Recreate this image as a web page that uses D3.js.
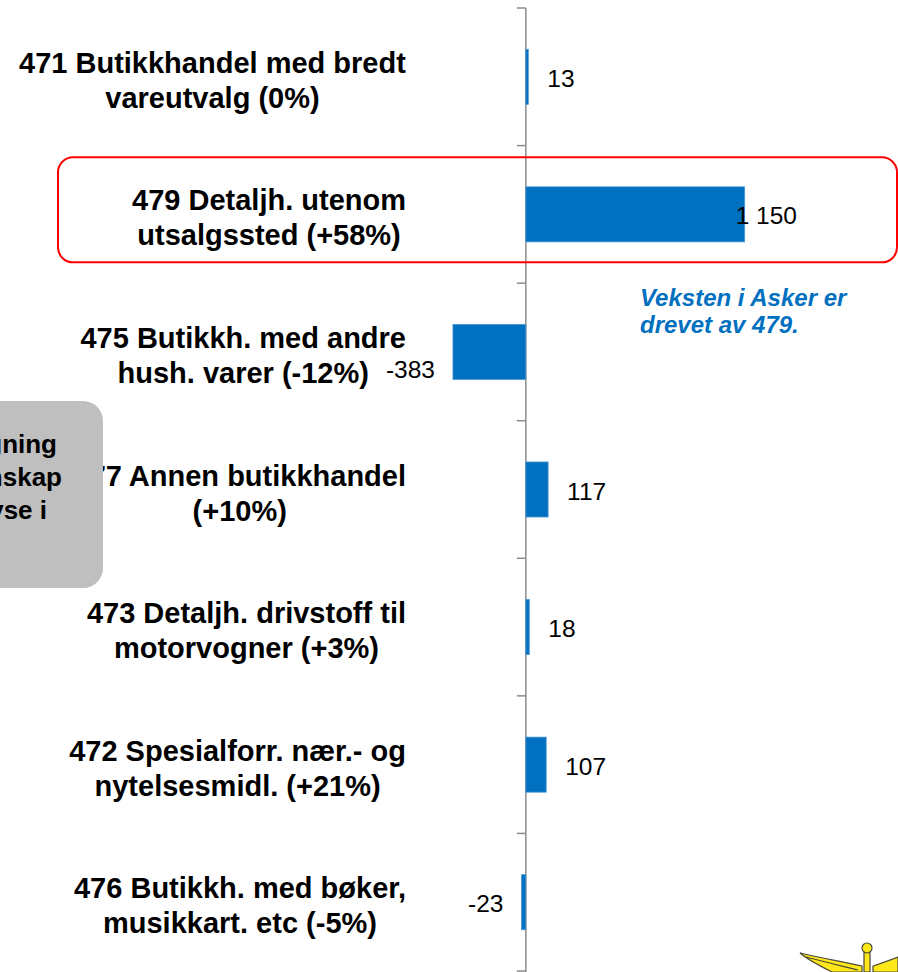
<!DOCTYPE html>
<html>
<head>
<meta charset="utf-8">
<script src="https://d3js.org/d3.v7.min.js"></script>
<style>
body{margin:0;background:#fff;}
svg{display:block;font-family:"Liberation Sans",Arial,sans-serif;}
</style>
</head>
<body>
<svg id="chart" width="898" height="972"></svg>
<script>
// categories (two lines each) and change in employees
var labels = [
  ["471 Butikkhandel med bredt", "vareutvalg (0%)"],
  ["479 Detaljh. utenom", "utsalgssted (+58%)"],
  ["475 Butikkh. med andre", "hush. varer (-12%)"],
  ["477 Annen butikkhandel", "(+10%)"],
  ["473 Detaljh. drivstoff til", "motorvogner (+3%)"],
  ["472 Spesialforr. nær.- og", "nytelsesmidl. (+21%)"],
  ["476 Butikkh. med bøker,", "musikkart. etc (-5%)"]
];
var values = [13, 1150, -383, 117, 18, 107, -23];
var highlight = 1;
var note = ["Veksten i Asker er", "drevet av 479."];
var sideNote = ["Omregning", "av regnskap", "analyse i"];

var svg = d3.select("#chart");
var blue = "#0070C0";
var loc = d3.formatLocale({decimal: ",", thousands: " ", grouping: [3], currency: ["", ""], minus: "-"});
var fmt = loc.format(",d");

var x = d3.scaleLinear().domain([-1500, 1425]).range([240.4, 797]);
var y = d3.scaleBand().domain(d3.range(labels.length)).range([8, 971]).paddingInner(0.6).paddingOuter(0.3);
var step = y.step();
var labelRight = 406;

// category labels
var cat = svg.append("g").selectAll("g").data(labels).enter().append("g");
cat.each(function(d, i) {
  var g = d3.select(this);
  g.selectAll("text").data(d).enter().append("text")
    .attr("x", 0)
    .attr("y", function(t, j) { return j * 35; })
    .attr("text-anchor", "middle")
    .attr("font-size", 29)
    .attr("font-weight", "bold")
    .attr("fill", "#000")
    .text(function(t) { return t; });
  var bb = this.getBBox();
  var cy = y(i) + y.bandwidth() / 2;
  g.attr("transform", "translate(" + (labelRight - bb.width / 2) + "," + (cy - 4) + ")");
});

// axis
var axisX = x(0);
var ticks = d3.range(labels.length + 1).map(function(i) { return 8 + i * step; });
svg.append("line").attr("x1", axisX).attr("x2", axisX).attr("y1", 8).attr("y2", 972)
  .attr("stroke", "#8c8c8c").attr("stroke-width", 1.5);
svg.selectAll(".tk").data(ticks).enter().append("line").attr("class", "tk")
  .attr("x1", axisX - 9).attr("x2", axisX).attr("y1", function(d) { return d; }).attr("y2", function(d) { return d; })
  .attr("stroke", "#8c8c8c").attr("stroke-width", 1.5);

// bars
svg.selectAll(".bar").data(values).enter().append("rect").attr("class", "bar")
  .attr("x", function(d) { return x(Math.min(0, d)); })
  .attr("width", function(d) { return Math.max(1.5, Math.abs(x(d) - x(0))); })
  .attr("y", function(d, i) { return y(i); })
  .attr("height", y.bandwidth())
  .attr("fill", blue).attr("stroke", "#4b95d6").attr("stroke-width", 0.8);

// value labels
svg.selectAll(".val").data(values).enter().append("text").attr("class", "val")
  .attr("font-size", 24.5).attr("fill", "#000")
  .text(function(d) { return fmt(d); })
  .each(function(d, i) {
    var w = this.getComputedTextLength();
    var cy = y(i) + y.bandwidth() / 2 + 10;
    var lx;
    if (d >= 0) {
      lx = Math.min(x(d) + 19, x.range()[1] - w);
    } else {
      lx = x(d) - 18 - w;
      if (lx < labelRight) cy += 16;
    }
    d3.select(this).attr("x", lx).attr("y", cy);
  });

// highlight frame around 479
var hy = y(highlight) + y.bandwidth() / 2;
svg.append("rect").attr("x", 58).attr("y", hy - 57).attr("width", 839).attr("height", 105)
  .attr("rx", 15).attr("fill", "none").attr("stroke", "#ff0000").attr("stroke-width", 2);

// note
svg.append("g").selectAll("text").data(note).enter().append("text")
  .attr("x", 640).attr("y", function(d, i) { return 306 + i * 27; })
  .attr("font-size", 24).attr("font-weight", "bold").attr("font-style", "italic")
  .attr("fill", blue).text(function(d) { return d; });

// grey side box (cut at left edge)
svg.append("rect").attr("x", -120).attr("y", 401).attr("width", 223).attr("height", 187)
  .attr("rx", 20).attr("fill", "#bfbfbf");
svg.append("g").selectAll("text").data(sideNote).enter().append("text")
  .attr("x", function(d, i) { return [57, 62, 47][i]; })
  .attr("y", function(d, i) { return 453 + i * 33; })
  .attr("text-anchor", "end").attr("font-size", 26).attr("font-weight", "bold")
  .attr("fill", "#000").text(function(d) { return d; });

// logo peeking in at bottom right
var logo = svg.append("g").attr("stroke", "#4a4a3a").attr("stroke-width", 1.2).attr("fill", "#ffe81a");
logo.append("path").attr("d", "M800,953 C820,958 845,962 862,966 L862,972 L832,972 C820,966 808,960 800,953 Z");
logo.append("path").attr("d", "M806,957 C825,962 842,966 858,970").attr("fill", "none");
logo.append("path").attr("d", "M873,972 L873,966 C882,963 890,960 898,957 L898,972 Z");
logo.append("rect").attr("x", 864).attr("y", 951).attr("width", 6).attr("height", 21);
logo.append("circle").attr("cx", 867).attr("cy", 948).attr("r", 5);
</script>
</body>
</html>
